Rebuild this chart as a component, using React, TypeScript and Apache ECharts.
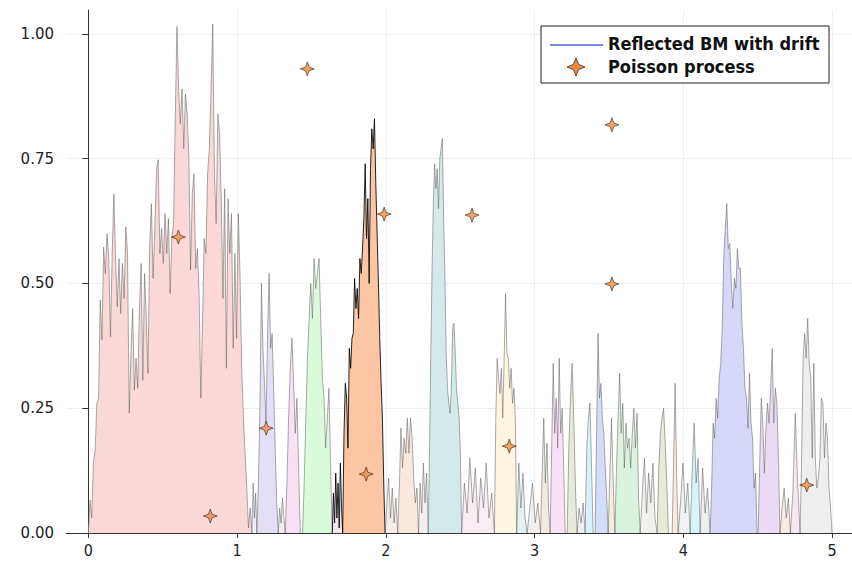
import React, { useEffect, useRef } from "react";
import * as echarts from "echarts";

// ---------- data ----------
const xTickValues = [0, 1, 2, 3, 4, 5];
const yTickValues = [0, 0.25, 0.5, 0.75, 1.0];

const poissonT = [0.605, 0.82, 1.196, 1.472, 1.868, 1.989, 2.58, 2.83, 3.52, 3.52, 4.83];
const poissonY = [0.593, 0.034, 0.21, 0.93, 0.118, 0.639, 0.637, 0.174, 0.818, 0.499, 0.096];

// excursion time windows (start, end) of the reflected path
const excStart = [0, 1.1, 1.133, 1.277, 1.324, 1.44, 1.64, 1.71, 1.995, 2.08, 2.22, 2.285, 2.51, 2.73, 2.88, 2.95, 3.04, 3.105, 3.219, 3.286, 3.34, 3.407, 3.495, 3.54, 3.71, 3.824, 3.925, 3.965, 4.046, 4.113, 4.18, 4.503, 4.65, 4.72, 4.785];
const excEnd = [1.1, 1.133, 1.277, 1.324, 1.425, 1.64, 1.71, 1.995, 2.08, 2.22, 2.285, 2.51, 2.73, 2.88, 2.95, 3.04, 3.105, 3.206, 3.286, 3.34, 3.394, 3.495, 3.54, 3.71, 3.824, 3.9, 3.965, 4.046, 4.113, 4.18, 4.496, 4.65, 4.72, 4.785, 5.0];

const exc01 = [0, 0.066, 0.03, 0.14, 0.166, 0.26, 0.27, 0.467, 0.387, 0.573, 0.52, 0.6, 0.55, 0.393, 0.56, 0.68, 0.55, 0.453, 0.55, 0.44, 0.54, 0.47, 0.613, 0.56, 0.24, 0.36, 0.45, 0.286, 0.35, 0.29, 0.45, 0.54, 0.306, 0.52, 0.43, 0.32, 0.573, 0.66, 0.51, 0.61, 0.727, 0.748, 0.56, 0.61, 0.54, 0.64, 0.56, 0.63, 0.48, 0.59,
  0.62, 0.83, 1.015, 0.89, 0.82, 0.89, 0.77, 0.88, 0.84, 0.75, 0.527, 0.68, 0.72, 0.53, 0.57, 0.48, 0.27, 0.42, 0.59, 0.56, 0.72, 0.77, 0.89, 1.02, 0.72, 0.62, 0.84, 0.8, 0.67, 0.47, 0.69, 0.33, 0.67, 0.56, 0.64, 0.37, 0.56, 0.39, 0.64, 0.52, 0.33, 0.23, 0.16, 0.09, 0.01, 0.05, 0];
const exc02 = [0, 0.1, 0.03, 0.08, 0];
const exc03 = [0, 0.1, 0.25, 0.5, 0.37, 0.3, 0.22, 0.4, 0.52, 0.37, 0.4, 0.29, 0.17, 0.06, 0];
const exc04 = [0, 0.05, 0.02, 0.07, 0.03, 0];
const exc05 = [0, 0.1, 0.23, 0.33, 0.39, 0.3, 0.2, 0.27, 0.13, 0];
const exc06 = [0, 0.1, 0.23, 0.35, 0.43, 0.5, 0.43, 0.55, 0.49, 0.52, 0.55, 0.43, 0.31, 0.27, 0.17, 0.23, 0.29, 0.13, 0];
const exc07 = [0, 0.08, 0.02, 0.12, 0.03, 0.1, 0.01, 0.14, 0.05, 0];
const exc08 = [0, 0.2, 0.3, 0.27, 0.17, 0.37, 0.33, 0.39, 0.4, 0.51, 0.45, 0.49, 0.43, 0.55, 0.52, 0.57, 0.63, 0.74, 0.59, 0.67, 0.5, 0.73, 0.81, 0.77, 0.83, 0.7, 0.6, 0.5, 0.39, 0.3, 0.23, 0.1, 0];
const exc09 = [0, 0.06, 0.11, 0.03, 0.09, 0.02, 0.07, 0];
const exc10 = [0, 0.09, 0.21, 0.13, 0.19, 0.16, 0.23, 0.16, 0.23, 0.19, 0.11, 0.06, 0.09, 0];
const exc11 = [0, 0.1, 0.04, 0.14, 0.06, 0.12, 0];
const exc12 = [0, 0.16, 0.36, 0.53, 0.66, 0.74, 0.69, 0.73, 0.65, 0.75, 0.77, 0.79, 0.63, 0.51, 0.36, 0.29, 0.26, 0.24, 0.29, 0.41, 0.42, 0.36, 0.29, 0.26, 0.23, 0.16, 0];
const exc13 = [0, 0.1, 0.04, 0.15, 0.06, 0.13, 0.02, 0.11, 0.05, 0.14, 0.03, 0.08, 0];
const exc14 = [0, 0.23, 0.35, 0.31, 0.28, 0.33, 0.23, 0.35, 0.48, 0.36, 0.35, 0.29, 0.33, 0.26, 0.29, 0.23, 0];
const exc15 = [0, 0.14, 0.05, 0.12, 0.03, 0];
const exc16 = [0, 0.05, 0.1, 0.02, 0.06, 0];
const exc17 = [0, 0.12, 0.23, 0.1, 0.18, 0.05, 0];
const exc18 = [0, 0.17, 0.34, 0.2, 0.27, 0.17, 0.35, 0.2, 0.25, 0.13, 0];
const exc19 = [0, 0.17, 0.27, 0.34, 0.23, 0.09, 0];
const exc20 = [0, 0.05, 0.02, 0.06, 0];
const exc21 = [0, 0.17, 0.23, 0.26, 0.13, 0];
const exc22 = [0, 0.2, 0.4, 0.27, 0.3, 0.23, 0.2, 0.13, 0.07, 0];
const exc23 = [0, 0.12, 0.23, 0.1, 0];
const exc24 = [0, 0.13, 0.23, 0.32, 0.2, 0.26, 0.13, 0.22, 0.17, 0.19, 0.13, 0.2, 0.25, 0.17, 0.24, 0.07, 0];
const exc25 = [0, 0.08, 0.15, 0.04, 0.12, 0.06, 0.14, 0.03, 0];
const exc26 = [0, 0.13, 0.2, 0.23, 0.25, 0.18, 0.1, 0];
const exc27 = [0, 0.15, 0.3, 0.12, 0];
const exc28 = [0, 0.06, 0.14, 0.04, 0.1, 0];
const exc29 = [0, 0.12, 0.22, 0.1, 0.15, 0];
const exc30 = [0, 0.13, 0.04, 0.09, 0];
const exc31 = [0, 0.09, 0.22, 0.19, 0.27, 0.23, 0.31, 0.34, 0.41, 0.55, 0.61, 0.66, 0.57, 0.58, 0.5, 0.45, 0.51, 0.49, 0.57, 0.53, 0.53, 0.42, 0.37, 0.29, 0.27, 0.21, 0.32, 0.22, 0.19, 0.09, 0.12, 0];
const exc32 = [0, 0.14, 0.27, 0.22, 0.12, 0.21, 0.26, 0.22, 0.29, 0.37, 0.22, 0.29, 0.26, 0.15, 0];
const exc33 = [0, 0.05, 0.09, 0.03, 0.07, 0];
const exc34 = [0, 0.08, 0.24, 0.1, 0];
const exc35 = [0, 0.15, 0.35, 0.4, 0.35, 0.43, 0.34, 0.31, 0.15, 0.34, 0.15, 0.09, 0.11, 0.15, 0.27, 0.26, 0.15, 0.22, 0.19, 0.09, 0.05, 0];

const excValues = [exc01, exc02, exc03, exc04, exc05, exc06, exc07, exc08, exc09, exc10, exc11, exc12, exc13, exc14, exc15, exc16, exc17, exc18, exc19, exc20, exc21, exc22, exc23, exc24, exc25, exc26, exc27, exc28, exc29, exc30, exc31, exc32, exc33, exc34, exc35];

// ---------- styles ----------
const fillColors = ["#fad8d8", "#f4eef8", "#e5def7", "#f1eef1", "#f9e0f3", "#d9fbd9", "#f0e8e8", "#fcc5a3", "#f3ece8", "#fbe8dc", "#f5eef0", "#d4e9e9", "#f7edf2", "#fdf5df", "#e3f1f2", "#f3efee", "#f6e9df", "#f9e1f6", "#e7e9d9", "#eef0ee", "#d6f3fb", "#d3ddf9", "#fbeadf", "#d9f3dc", "#f1f1ee", "#e7ead9", "#fbe9df", "#eef2f3", "#d7f3fb", "#eceef0", "#d6d7f9", "#e9dbf6", "#f8ebe3", "#f8e7f0", "#eeeeee"];
const darkLine = [6, 7];
const STAR = "path://M0,-10L2.6,-2.6L10,0L2.6,2.6L0,10L-2.6,2.6L-10,0L-2.6,-2.6Z";

export default function App() {
  const ref = useRef<HTMLDivElement>(null);
  useEffect(() => {
    document.body.style.margin = "0";
    if (!ref.current) return;
    const chart = echarts.init(ref.current, undefined, { renderer: "svg" });

    const pathSeries = excValues.map((vals, i) => {
      const s = excStart[i];
      const e = excEnd[i];
      const n = vals.length;
      const dark = darkLine.includes(i);
      return {
        type: "line",
        silent: true,
        symbol: "none",
        showSymbol: false,
        data: vals.map((v, k) => [s + ((e - s) * k) / (n - 1), v]),
        lineStyle: { color: dark ? "rgba(0,0,0,0.85)" : "rgba(90,90,90,0.5)", width: 1 },
        areaStyle: { color: fillColors[i], opacity: 1 },
        z: 2,
      };
    });

    const option = {
      animation: false,
      grid: { left: 66, right: 0, top: 10, bottom: 28 },
      xAxis: {
        type: "value",
        min: -0.15,
        max: 5.134,
        splitNumber: 5,
        axisLine: { show: true, onZero: false, lineStyle: { color: "#333", width: 1 } },
        axisTick: { show: true, length: 5, lineStyle: { color: "#333" } },
        axisLabel: {
          showMinLabel: false,
          showMaxLabel: false,
          fontSize: 16,
          color: "#222",
          margin: 9,
          fontFamily: "'DejaVu Sans Condensed', 'DejaVu Sans'",
          formatter: (v: number) => (xTickValues.includes(v) ? String(v) : ""),
        },
        splitLine: { show: true, showMinLine: false, showMaxLine: false, lineStyle: { color: "#efefef", width: 1 } },
      },
      yAxis: {
        type: "value",
        min: 0,
        max: 1.048,
        interval: 0.25,
        axisLine: { show: true, lineStyle: { color: "#333", width: 1 } },
        axisTick: { show: true, length: 6, lineStyle: { color: "#333" } },
        axisLabel: {
          showMaxLabel: false,
          fontSize: 15,
          color: "#222",
          margin: 12,
          fontFamily: "'DejaVu Sans'",
          formatter: (v: number) => (yTickValues.includes(v) ? v.toFixed(2) : ""),
        },
        splitLine: { show: true, showMinLine: false, showMaxLine: false, lineStyle: { color: "#efefef", width: 1 } },
      },
      series: [
        ...pathSeries,
        {
          type: "scatter",
          name: "Poisson process",
          data: poissonT.map((t, i) => [t, poissonY[i]]),
          symbol: STAR,
          symbolSize: 14,
          itemStyle: { color: "#ef8c3d", borderColor: "#3b2a1e", borderWidth: 0.8 },
          z: 10,
        },
      ],
      graphic: [
        {
          type: "rect",
          shape: { x: 541, y: 26, width: 288, height: 57 },
          style: { fill: "#fff", stroke: "#222", lineWidth: 1 },
          z: 100,
        },
        {
          type: "line",
          shape: { x1: 550, y1: 45, x2: 603, y2: 45 },
          style: { stroke: "#4a63d3", lineWidth: 1.5 },
          z: 101,
        },
        {
          type: "polygon",
          shape: { points: [[576, 58], [578.6, 64.4], [585, 67], [578.6, 69.6], [576, 76], [573.4, 69.6], [567, 67], [573.4, 64.4]] },
          style: { fill: "#ef8c3d", stroke: "#3b2a1e", lineWidth: 0.8 },
          z: 101,
        },
        {
          type: "text",
          x: 608,
          y: 43,
          style: { text: "Reflected BM with drift", fontSize: 18, fontWeight: "bold", fontFamily: "'DejaVu Sans Condensed', 'DejaVu Sans'", fill: "#111", textVerticalAlign: "middle" },
          z: 101,
        },
        {
          type: "text",
          x: 608,
          y: 66,
          style: { text: "Poisson process", fontSize: 18, fontWeight: "bold", fontFamily: "'DejaVu Sans Condensed', 'DejaVu Sans'", fill: "#111", textVerticalAlign: "middle" },
          z: 101,
        },
      ],
    };
    chart.setOption(option as any);
    return () => chart.dispose();
  }, []);
  return <div ref={ref} style={{ position: "absolute", left: 0, top: 0, width: 852, height: 561 }} />;
}
